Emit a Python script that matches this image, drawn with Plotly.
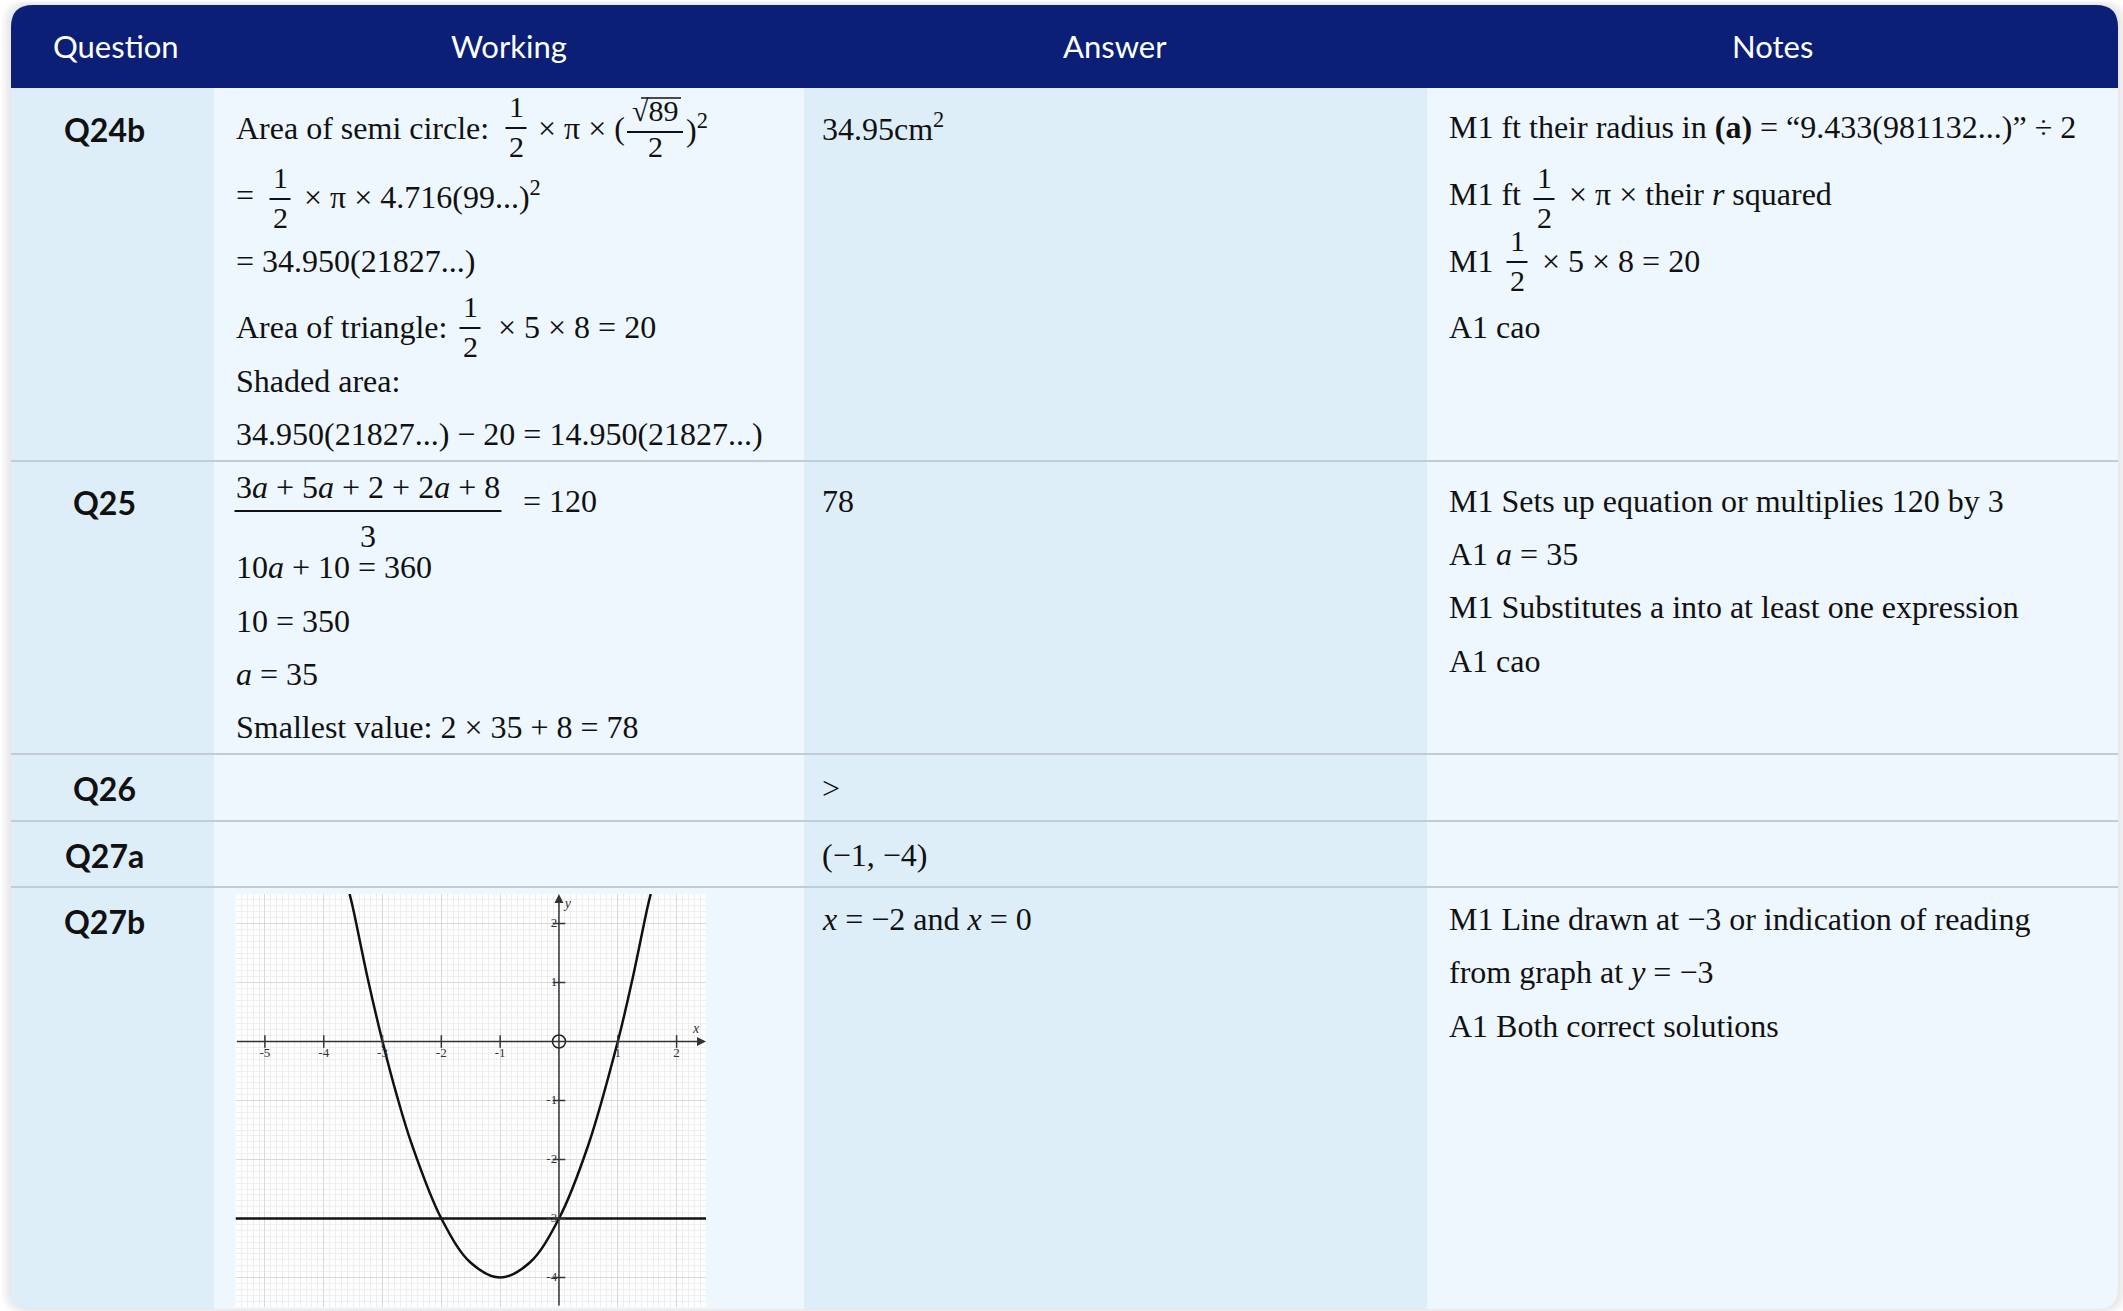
import plotly.graph_objects as go

W, H = 2123, 1311

headers = ["Question", "Working", "Answer", "Notes"]
questions = ["Q24b", "Q25", "Q26", "Q27a", "Q27b"]
answers = ["34.95cm<sup>2</sup>", "78", ">", "(−1, −4)", "<i>x</i> = −2 and <i>x</i> = 0"]

working_q24b = [
    "Area of semi circle:", "× π × (", "√89", ")<sup>2</sup>",
    "=", "× π × 4.716(99...)<sup>2</sup>",
    "= 34.950(21827...)",
    "Area of triangle:", "× 5 × 8 = 20",
    "Shaded area:",
    "34.950(21827...) − 20 = 14.950(21827...)",
]
working_q25 = [
    "3<i>a</i> + 5<i>a</i> + 2 + 2<i>a</i> + 8", "3", "= 120",
    "10<i>a</i> + 10 = 360",
    "10 = 350",
    "<i>a</i> = 35",
    "Smallest value: 2 × 35 + 8 = 78",
]
notes_q24b = [
    "M1 ft their radius in <b>(a)</b> = “9.433(981132...)” ÷ 2",
    "M1 ft", "× π × their <i>r</i> squared",
    "M1", "× 5 × 8 = 20",
    "A1 cao",
]
notes_q25 = [
    "M1 Sets up equation or multiplies 120 by 3",
    "A1 <i>a</i> = 35",
    "M1 Substitutes a into at least one expression",
    "A1 cao",
]
notes_q27b = [
    "M1 Line drawn at −3 or indication of reading",
    "from graph at <i>y</i> = −3",
    "A1 Both correct solutions",
]

# graph in Q27b
curve_x = [-3.56, -3.5, -3.25, -3, -2.75, -2.5, -2, -1.5, -1, -0.5, 0, 0.5, 1, 1.25, 1.5, 1.56]
curve_y = [2.5, 2.25, 1.06, 0, -0.94, -1.75, -3, -3.75, -4, -3.75, -3, -1.75, 0, 1.06, 2.25, 2.5]
reading_x = [-5.5, 2.5]
reading_y = [-3, -3]
x_ticks = [-5, -4, -3, -2, -1, 1, 2]
x_tick_text = ["-5", "-4", "-3", "-2", "-1", "1", "2"]
y_ticks = [2, 1, -1, -2, -3, -4]
y_tick_text = ["2", "1", "-1", "-2", "-3", "-4"]

NAVY = "#0B1F77"
COL_A = "#DEEEF9"
COL_B = "#EEF7FE"
LINE = "#C3CCD3"
INK = "#111111"
SERIF = "Liberation Serif"
SANS = "Lato"

fig = go.Figure()

cols = [11, 214, 804, 1427, 2118]
top, head_bot, bot = 5, 88, 1309
row_lines = [461, 754, 821, 887]


def rr_path(x0, y0, x1, y1, tl=0, tr=0, br=0, bl=0):
    return (f"M {x0+tl},{y0} L {x1-tr},{y0} Q {x1},{y0} {x1},{y0+tr} "
            f"L {x1},{y1-br} Q {x1},{y1} {x1-br},{y1} L {x0+bl},{y1} "
            f"Q {x0},{y1} {x0},{y1-bl} L {x0},{y0+tl} Q {x0},{y0} {x0+tl},{y0} Z")


shapes = []
# soft shadow
for k in range(1, 9):
    shapes.append(dict(type="path", path=rr_path(cols[0] - k * 1.3, top - k * 0.6, cols[-1] + k * 1.3,
                                                 bot + k * 0.6, 22, 22, 22, 22),
                       fillcolor="rgba(0,0,0,0.012)", line=dict(width=0), layer="below"))
# column backgrounds
for i in range(4):
    bl = 20 if i == 0 else 0
    br = 20 if i == 3 else 0
    shapes.append(dict(type="path", path=rr_path(cols[i], head_bot, cols[i + 1], bot, 0, 0, br, bl),
                       fillcolor=COL_A if i % 2 == 0 else COL_B, line=dict(width=0), layer="below"))
# header
shapes.append(dict(type="path", path=rr_path(cols[0], top, cols[-1], head_bot, 22, 22, 0, 0),
                   fillcolor=NAVY, line=dict(width=0), layer="below"))
for yl in row_lines:
    shapes.append(dict(type="line", x0=cols[0], x1=cols[-1], y0=yl, y1=yl,
                       line=dict(color=LINE, width=2), layer="below"))
# white paper under the graph
gx0, gx1, gy0, gy1 = 235.5, 706, 894, 1307
shapes.append(dict(type="rect", x0=gx0, x1=gx1, y0=gy0, y1=gy1, fillcolor="white",
                   line=dict(width=0), layer="below"))


def txt(x, base, s, size=32, anchor="left", family=SERIF, color=INK):
    fig.add_annotation(x=x, y=base - 0.34 * size, xref="x", yref="y", text=s, showarrow=False,
                       xanchor=anchor, yanchor="middle", borderpad=0,
                       font=dict(family=family, size=size, color=color))


def mid(x, cy, s, size=32, anchor="left", family=SERIF, color=INK):
    fig.add_annotation(x=x, y=cy, xref="x", yref="y", text=s, showarrow=False,
                       xanchor=anchor, yanchor="middle", borderpad=0,
                       font=dict(family=family, size=size, color=color))


def frac(xc, bar, width, num="1", den="2", size=30, num_off=11, den_off=29):
    txt(xc, bar - num_off, num, size=size, anchor="center")
    txt(xc, bar + den_off, den, size=size, anchor="center")
    shapes.append(dict(type="line", x0=xc - width / 2, x1=xc + width / 2, y0=bar, y1=bar,
                       line=dict(color=INK, width=2), layer="below"))


# header
head_x = [116, 509, 1115, 1772]
for hx, h in zip(head_x, headers):
    mid(hx, 46, h, size=31, anchor="center", family=SANS, color="white")

# question labels
q_cy = [129, 502, 788, 855, 921]
for qy, q in zip(q_cy, questions):
    mid(104, qy, f"<b>{q}</b>", size=32, anchor="center", family=SANS, color=INK)

# answers
txt(821, 138, answers[0])
txt(821, 512, answers[1])
mid(821, 788, answers[2])
mid(821, 855, answers[3])
txt(821, 930, answers[4])

# working Q24b
w = working_q24b
txt(235, 139, w[0])
frac(516, 128, 21)
txt(537, 139, w[1])
frac(655, 132, 56, num=w[2], num_off=11, den_off=25)
shapes.append(dict(type="line", x0=641, x1=681, y0=98, y1=98, line=dict(color=INK, width=1.5),
                   layer="below"))
txt(685, 139, w[3])
txt(235, 206, w[4])
frac(280, 199, 21)
txt(303, 206, w[5])
txt(235, 272, w[6])
txt(235, 338, w[7])
frac(470, 328, 21)
txt(497, 338, w[8])
txt(235, 392, w[9])
txt(235, 445, w[10])

# working Q25
w = working_q25
frac(368, 511, 267, num=w[0], den=w[1], size=32, num_off=13, den_off=36)
txt(522, 512, w[2])
txt(235, 578, w[3])
txt(235, 632, w[4])
txt(235, 685, w[5])
txt(235, 738, w[6])

# notes
n = notes_q24b
txt(1448, 138, n[0])
txt(1448, 205, n[1])
frac(1544, 199, 21)
txt(1568, 205, n[2])
txt(1448, 272, n[3])
frac(1517, 262, 21)
txt(1541, 272, n[4])
txt(1448, 338, n[5])
for yb, s in zip([512, 565, 618, 672], notes_q25):
    txt(1448, yb, s)
for yb, s in zip([930, 983, 1037], notes_q27b):
    txt(1448, yb, s)

# graph traces
g = dict(xaxis="x2", yaxis="y2", hoverinfo="skip", showlegend=False)
fig.add_trace(go.Scatter(x=reading_x, y=reading_y, mode="lines",
                         line=dict(color="#111", width=2.5), **g))
fig.add_trace(go.Scatter(x=curve_x, y=curve_y, mode="lines",
                         line=dict(color="#111", width=2.5, shape="spline"), **g))
fig.add_trace(go.Scatter(x=x_ticks, y=[0] * len(x_ticks), mode="markers",
                         marker=dict(symbol="line-ns", size=9, color="#333",
                                     line=dict(width=1.5, color="#333")), **g))
fig.add_trace(go.Scatter(x=[0] * len(y_ticks), y=y_ticks, mode="markers",
                         marker=dict(symbol="line-ew", size=9, color="#333",
                                     line=dict(width=1.5, color="#333")), **g))
fig.add_trace(go.Scatter(x=x_ticks, y=[-0.2] * len(x_ticks), mode="text", text=x_tick_text,
                         textfont=dict(family=SERIF, size=13, color="#333"), **g))
fig.add_trace(go.Scatter(x=[-0.03] * len(y_ticks), y=y_ticks, mode="text", text=y_tick_text,
                         textposition="middle left", textfont=dict(family=SERIF, size=13, color="#333"), **g))
fig.add_trace(go.Scatter(x=[0], y=[0], mode="markers",
                         marker=dict(symbol="circle-open", size=13, color="#222",
                                     line=dict(width=1.5, color="#222")), **g))
fig.add_trace(go.Scatter(x=[2.33, 0.15], y=[0.2, 2.33], mode="text", text=["<i>x</i>", "<i>y</i>"],
                         textfont=dict(family=SERIF, size=14, color="#333"), **g))

# axes with arrows
fig.add_annotation(x=2.5, y=0, ax=-5.5, ay=0, xref="x2", yref="y2", axref="x2", ayref="y2",
                   text="", showarrow=True, arrowhead=2, arrowsize=1.2, arrowwidth=1.5, arrowcolor="#333")
fig.add_annotation(x=0, y=2.5, ax=0, ay=-4.5, xref="x2", yref="y2", axref="x2", ayref="y2",
                   text="", showarrow=True, arrowhead=2, arrowsize=1.2, arrowwidth=1.5, arrowcolor="#333")

fig.update_layout(
    width=W, height=H, margin=dict(l=0, r=0, t=0, b=0),
    paper_bgcolor="white", plot_bgcolor="rgba(0,0,0,0)",
    shapes=shapes, showlegend=False, hovermode=False,
    xaxis=dict(range=[0, W], visible=False, domain=[0, 1], fixedrange=True),
    yaxis=dict(range=[H, 0], visible=False, domain=[0, 1], fixedrange=True),
    xaxis2=dict(domain=[gx0 / W, gx1 / W], range=[-5.5, 2.5], anchor="y2",
                showticklabels=False, ticks="", zeroline=False, showline=False,
                showgrid=True, tick0=0, dtick=1, gridcolor="#D9D9D9", gridwidth=1,
                minor=dict(dtick=0.1, showgrid=True, gridcolor="#EEEEEE", gridwidth=1)),
    yaxis2=dict(domain=[1 - gy1 / H, 1 - gy0 / H], range=[-4.5, 2.5], anchor="x2",
                showticklabels=False, ticks="", zeroline=False, showline=False,
                showgrid=True, tick0=0, dtick=1, gridcolor="#D9D9D9", gridwidth=1,
                minor=dict(dtick=0.1, showgrid=True, gridcolor="#EEEEEE", gridwidth=1)),
)

fig.write_html("out.html", config={"displayModeBar": False},
               post_script="document.body.style.margin='0';")
